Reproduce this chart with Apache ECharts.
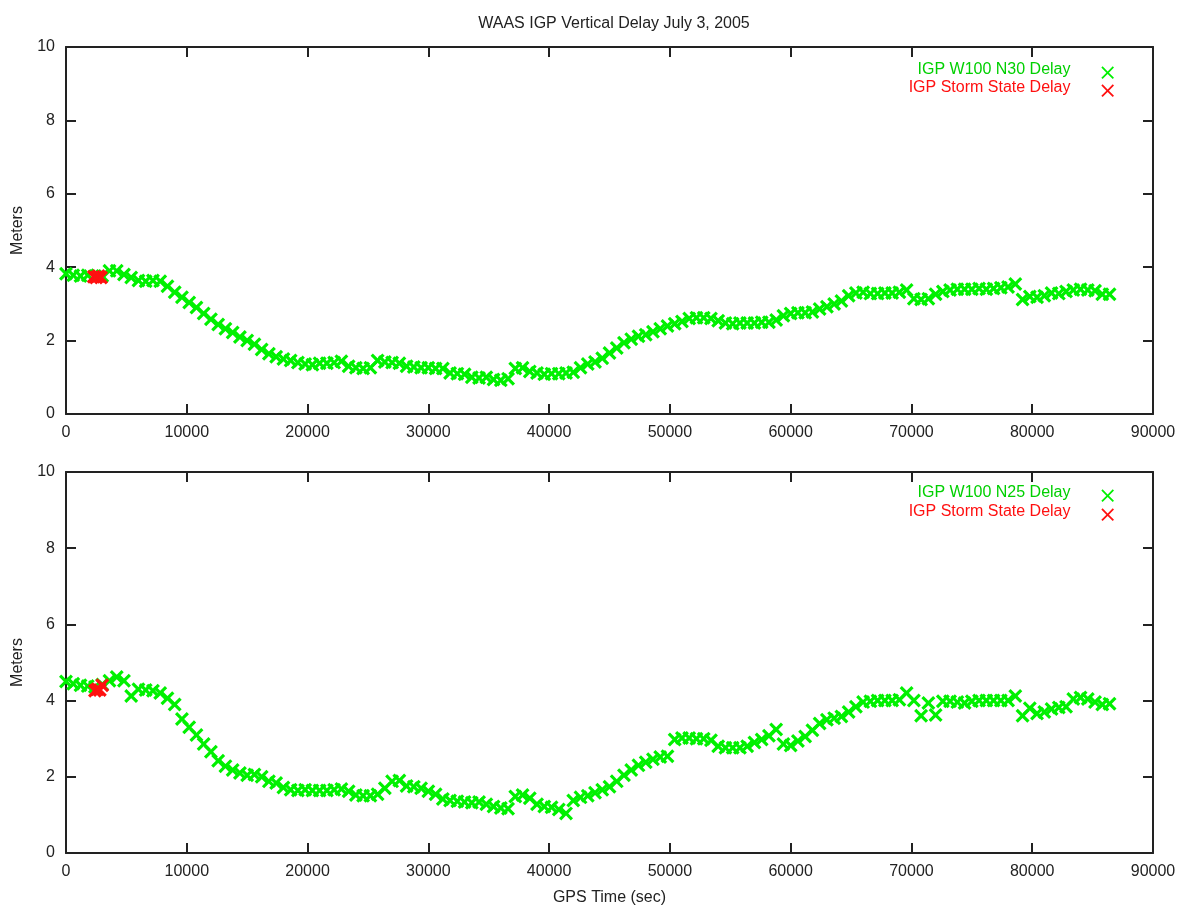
<!DOCTYPE html>
<html>
<head>
<meta charset="utf-8">
<title>WAAS IGP Vertical Delay July 3, 2005</title>
<script src="https://cdn.jsdelivr.net/npm/echarts@6/dist/echarts.min.js"></script>
<style>
  html, body { margin: 0; padding: 0; background: #fff; }
  #chart { width: 1194px; height: 910px; }
</style>
</head>
<body>
<div id="chart"></div>
<script>
// GPS time of each sample (sec)
const gpsTime = [
  0, 600, 1200, 1800, 2400, 3000, 3600, 4200, 4800, 5400,
  6000, 6600, 7200, 7800, 8400, 9000, 9600, 10200, 10800, 11400,
  12000, 12600, 13200, 13800, 14400, 15000, 15600, 16200, 16800, 17400,
  18000, 18600, 19200, 19800, 20400, 21000, 21600, 22200, 22800, 23400,
  24000, 24600, 25200, 25800, 26400, 27000, 27600, 28200, 28800, 29400,
  30000, 30600, 31200, 31800, 32400, 33000, 33600, 34200, 34800, 35400,
  36000, 36600, 37200, 37800, 38400, 39000, 39600, 40200, 40800, 41400,
  42000, 42600, 43200, 43800, 44400, 45000, 45600, 46200, 46800, 47400,
  48000, 48600, 49200, 49800, 50400, 51000, 51600, 52200, 52800, 53400,
  54000, 54600, 55200, 55800, 56400, 57000, 57600, 58200, 58800, 59400,
  60000, 60600, 61200, 61800, 62400, 63000, 63600, 64200, 64800, 65400,
  66000, 66600, 67200, 67800, 68400, 69000, 69600, 70200, 70800, 71400,
  72000, 72600, 73200, 73800, 74400, 75000, 75600, 76200, 76800, 77400,
  78000, 78600, 79200, 79800, 80400, 81000, 81600, 82200, 82800, 83400,
  84000, 84600, 85200, 85800, 86400
];

// IGP W100 N30 vertical delay (m)
const delayN30 = [
  3.82, 3.78, 3.76, 3.78, 3.76, 3.76, 3.90, 3.90, 3.80, 3.72,
  3.64, 3.62, 3.64, 3.62, 3.48, 3.32, 3.18, 3.04, 2.90, 2.74,
  2.58, 2.44, 2.32, 2.22, 2.10, 2.00, 1.90, 1.76, 1.64, 1.56,
  1.50, 1.46, 1.40, 1.36, 1.34, 1.38, 1.38, 1.40, 1.44, 1.30,
  1.26, 1.24, 1.26, 1.46, 1.42, 1.40, 1.38, 1.30, 1.28, 1.26,
  1.26, 1.24, 1.24, 1.12, 1.10, 1.08, 1.00, 0.98, 1.00, 0.94,
  0.92, 0.96, 1.24, 1.26, 1.16, 1.12, 1.08, 1.10, 1.10, 1.12,
  1.14, 1.26, 1.36, 1.42, 1.52, 1.66, 1.80, 1.94, 2.04, 2.12,
  2.16, 2.24, 2.32, 2.40, 2.46, 2.52, 2.60, 2.62, 2.62, 2.60,
  2.54, 2.48, 2.46, 2.48, 2.48, 2.48, 2.50, 2.50, 2.56, 2.68,
  2.74, 2.76, 2.76, 2.78, 2.86, 2.92, 3.00, 3.08, 3.22, 3.30,
  3.32, 3.28, 3.28, 3.30, 3.30, 3.32, 3.38, 3.14, 3.12, 3.14,
  3.26, 3.34, 3.38, 3.40, 3.40, 3.40, 3.42, 3.40, 3.42, 3.44,
  3.46, 3.54, 3.12, 3.20, 3.18, 3.22, 3.30, 3.28, 3.34, 3.38,
  3.40, 3.38, 3.36, 3.26, 3.26
];

// IGP W100 N25 vertical delay (m)
const delayN25 = [
  4.50, 4.44, 4.40, 4.38, 4.36, 4.42, 4.52, 4.62, 4.52, 4.12,
  4.30, 4.28, 4.26, 4.20, 4.06, 3.90, 3.52, 3.30, 3.10, 2.86,
  2.66, 2.42, 2.28, 2.18, 2.10, 2.04, 2.06, 2.00, 1.88, 1.84,
  1.72, 1.66, 1.64, 1.66, 1.64, 1.64, 1.64, 1.66, 1.68, 1.62,
  1.52, 1.50, 1.50, 1.54, 1.70, 1.88, 1.90, 1.76, 1.74, 1.70,
  1.62, 1.54, 1.42, 1.38, 1.36, 1.34, 1.32, 1.34, 1.28, 1.22,
  1.18, 1.16, 1.48, 1.52, 1.44, 1.28, 1.22, 1.20, 1.14, 1.04,
  1.38, 1.46, 1.50, 1.58, 1.66, 1.74, 1.88, 2.04, 2.18, 2.30,
  2.38, 2.46, 2.52, 2.54, 2.98, 3.02, 3.02, 3.00, 3.00, 2.96,
  2.80, 2.76, 2.76, 2.76, 2.80, 2.90, 2.98, 3.08, 3.24, 2.86,
  2.82, 2.94, 3.06, 3.22, 3.40, 3.50, 3.54, 3.58, 3.70, 3.84,
  3.96, 3.98, 4.00, 4.00, 4.00, 4.02, 4.20, 4.00, 3.60, 3.94,
  3.62, 3.98, 3.98, 3.96, 3.94, 3.98, 4.00, 4.00, 4.00, 4.00,
  4.00, 4.12, 3.60, 3.80, 3.66, 3.70, 3.78, 3.82, 3.84, 4.04,
  4.08, 4.04, 3.96, 3.90, 3.92
];

// storm state samples
const stormTimeN30 = [2300, 2500, 2700, 2900];
const stormN30 = [3.74, 3.72, 3.76, 3.72];
const stormTimeN25 = [2400, 2600, 2800, 3000];
const stormN25 = [4.26, 4.30, 4.28, 4.40];

const xTicks = [0, 10000, 20000, 30000, 40000, 50000, 60000, 70000, 80000, 90000];
const yTicks = [0, 2, 4, 6, 8, 10];

const GREEN = '#00f000';
const RED = '#ff1010';
const INK = '#222';
const FONT = '"Liberation Sans", Arial, sans-serif';

// gnuplot style "x" point (a bit bold so the dense band fills in)
const crossPath = 'path://M0,1.6L1.6,0L5,3.4L8.4,0L10,1.6L6.6,5L10,8.4L8.4,10L5,6.6L1.6,10L0,8.4L3.4,5Z';
// thin cross with a tiny dot far left, so legend text sits further away
const legendIcon = 'path://M0,5L0.1,5L0.1,5.1Z M20,6L21,5L25,9L29,5L30,6L26,10L30,14L29,15L25,11L21,15L20,14L24,10Z M0,0L0.1,0L0.1,0.1Z';

const grids = [
  { left: 66, right: 41, top: 47, height: 367 },
  { left: 66, right: 41, top: 472, height: 381 },
];

function xAxisPair(gridIndex, withName) {
  const base = {
    type: 'value', gridIndex, min: xTicks[0], max: xTicks[xTicks.length - 1],
    interval: xTicks[1] - xTicks[0],
    axisLine: { show: true, onZero: false, lineStyle: { color: INK, width: 2 } },
    axisTick: { show: true, inside: true, length: 10, lineStyle: { color: INK, width: 2 } },
    splitLine: { show: false },
  };
  return [
    Object.assign({}, base, {
      position: 'bottom',
      axisLabel: { color: INK, fontSize: 16, fontFamily: FONT, margin: 11, formatter: (v) => String(v) },
      name: withName ? 'GPS Time (sec)' : '',
      nameLocation: 'middle', nameGap: 37,
      nameTextStyle: { color: INK, fontSize: 16, fontFamily: FONT },
    }),
    Object.assign({}, base, { position: 'top', axisLabel: { show: false } }),
  ];
}

function yAxisPair(gridIndex) {
  const base = {
    type: 'value', gridIndex, min: yTicks[0], max: yTicks[yTicks.length - 1],
    interval: yTicks[1] - yTicks[0],
    axisLine: { show: true, onZero: false, lineStyle: { color: INK, width: 2 } },
    axisTick: { show: true, inside: true, length: 10, lineStyle: { color: INK, width: 2 } },
    splitLine: { show: false },
  };
  return [
    Object.assign({}, base, {
      position: 'left',
      axisLabel: { color: INK, fontSize: 16, fontFamily: FONT, margin: 11 },
      name: 'Meters', nameLocation: 'middle', nameGap: 40, nameRotate: 90,
      nameTextStyle: { color: INK, fontSize: 16, fontFamily: FONT },
    }),
    Object.assign({}, base, { position: 'right', axisLabel: { show: false } }),
  ];
}

function pts(times, vals) {
  return times.map((t, i) => [t, vals[i]]);
}

function scatter(name, color, axisIndex, data, z) {
  return {
    name, type: 'scatter', xAxisIndex: axisIndex, yAxisIndex: axisIndex,
    symbol: crossPath, symbolSize: 14, z,
    itemStyle: { color, opacity: 1 },
    data,
  };
}

function legendRow(name, color, top) {
  return {
    show: true, right: 80, top, padding: 0, align: 'right', orient: 'vertical',
    itemWidth: 39, itemHeight: 19, selectedMode: false,
    data: [{ name, icon: legendIcon, textStyle: { color } }],
    textStyle: { fontSize: 16, fontFamily: FONT, color },
  };
}

const chart = echarts.init(document.getElementById('chart'));
chart.setOption({
  animation: false,
  backgroundColor: '#fff',
  title: {
    text: 'WAAS IGP Vertical Delay July 3, 2005',
    left: 609, top: 11, textAlign: 'center',
    textStyle: { color: INK, fontSize: 16, fontWeight: 'normal', fontFamily: FONT },
  },
  grid: grids,
  xAxis: [...xAxisPair(0, false), ...xAxisPair(1, true)],
  yAxis: [...yAxisPair(0), ...yAxisPair(1)],
  legend: [
    legendRow('IGP W100 N30 Delay', '#00d000', 60),
    legendRow('IGP Storm State Delay', RED, 78),
    legendRow('IGP W100 N25 Delay', '#00d000', 483),
    legendRow('IGP Storm State Delay', RED, 502),
  ],
  series: [
    scatter('IGP W100 N30 Delay', GREEN, 0, pts(gpsTime, delayN30), 2),
    scatter('IGP Storm State Delay', RED, 0, pts(stormTimeN30, stormN30), 3),
    scatter('IGP W100 N25 Delay', GREEN, 2, pts(gpsTime, delayN25), 2),
    scatter('IGP Storm State Delay', RED, 2, pts(stormTimeN25, stormN25), 3),
  ],
});
</script>
</body>
</html>
